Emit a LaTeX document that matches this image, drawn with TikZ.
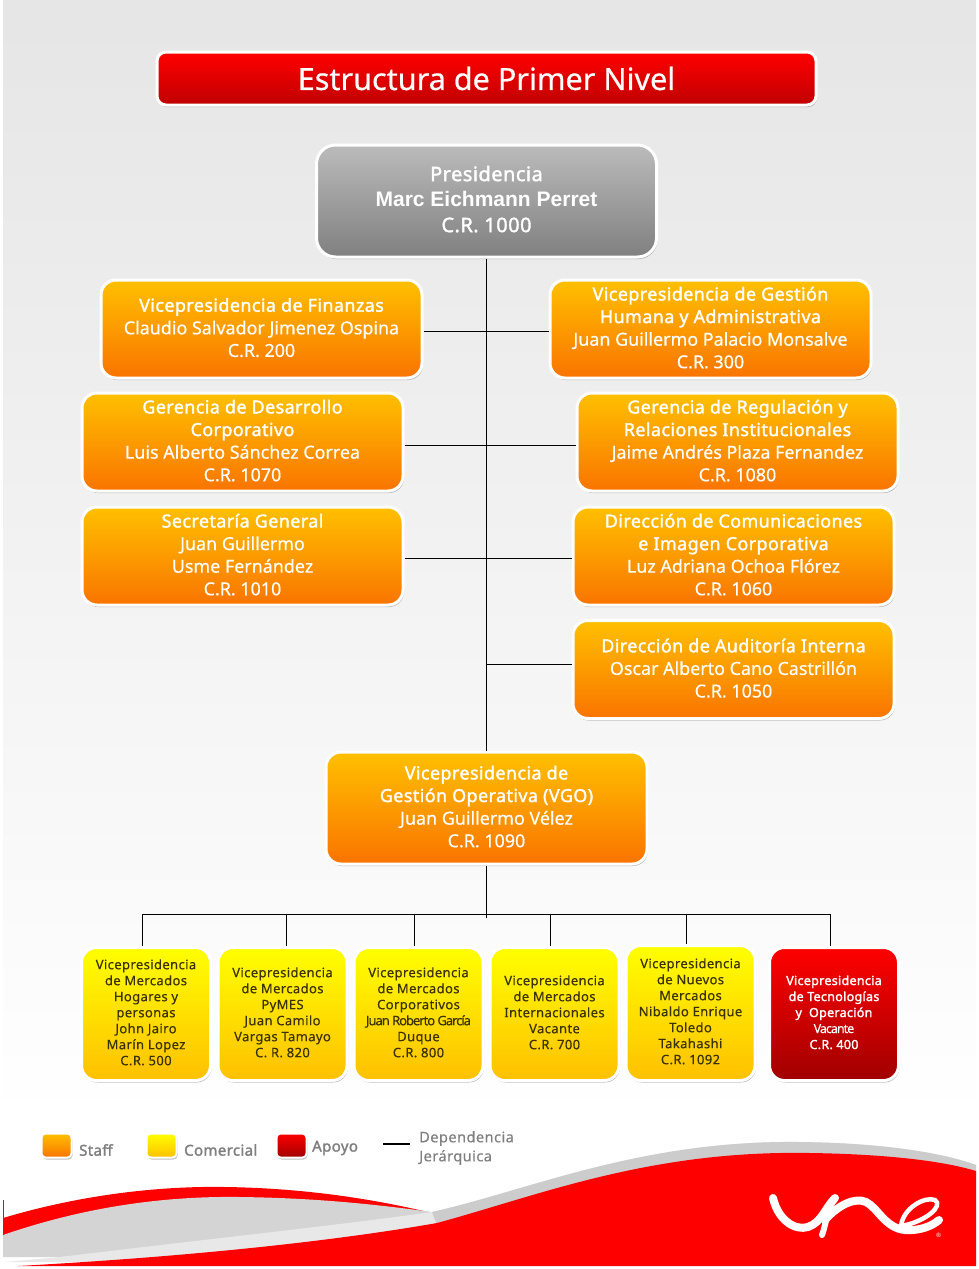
\documentclass[tikz,border=0pt]{standalone}
\usepackage{fontspec}
\setmainfont{Noto Sans}
\newfontfamily\arialfont{Liberation Sans}
\newfontfamily\headfont[FakeBold=1.8,LetterSpace=2.4]{Noto Sans}
\newfontfamily\bodyfont[FakeBold=0.5]{Noto Sans}
\newfontfamily\smallfont[FakeBold=0.25,LetterSpace=3]{Noto Sans}
\newfontfamily\tightfont[FakeBold=0.25,LetterSpace=-8]{Noto Sans}
\usetikzlibrary{positioning}
\usetikzlibrary{shadows}
\definecolor{orangeTop}{HTML}{FFC000}
\definecolor{orangeBot}{HTML}{F97400}
\definecolor{redTop}{HTML}{FF0000}
\definecolor{redBot}{HTML}{A00000}
\definecolor{titleBot}{HTML}{C00000}
\definecolor{grayTop}{HTML}{BBBBBB}
\definecolor{grayBot}{HTML}{808080}
\definecolor{inkDark}{HTML}{3A3000}
\definecolor{legendInk}{HTML}{7F7F7F}
\tikzset{
  basebox/.style={draw=white, line width=3pt, rounded corners=15pt, align=center,
    drop shadow={shadow xshift=1pt, shadow yshift=-2pt, opacity=.25, fill=black}},
  staffbox/.style={basebox, top color=orangeTop, bottom color=orangeBot, text=white,
    minimum width=321pt, minimum height=98pt, font=\bodyfont\fontsize{17.9}{22.6}\selectfont,
    execute at end node={\rule[-3pt]{0pt}{0pt}}},
  comercialbox/.style={basebox, top color=yellow, bottom color=orangeTop, text=inkDark,
    minimum width=129pt, minimum height=133pt, font=\smallfont\fontsize{13}{16}\selectfont,
    execute at end node={\rule[-3.5pt]{0pt}{0pt}}},
  apoyobox/.style={comercialbox, top color=redTop, bottom color=redBot, text=white},
  keybox/.style={draw=white, line width=2pt, rounded corners=4pt, minimum width=30pt, minimum height=24pt,
    drop shadow={shadow xshift=1pt, shadow yshift=-2pt, opacity=.25, fill=black}},
  keytext/.style={text=legendInk, font=\headfont\fontsize{15}{18}\selectfont, inner sep=0pt},
  treeline/.style={draw=black, line width=1pt}
}
\begin{document}
\begin{tikzpicture}[x=1pt,y=-1pt]
\useasboundingbox (0,0) rectangle (978,1269);
% background
\fill[top color=black!10, bottom color=white, middle color=black!5] (3,0) rectangle (976,1120);
\fill[white] (3,1120) rectangle (976,1266);
% swoosh at the bottom
\fill[redTop] (3,1218) .. controls (90,1192) and (170,1186) .. (225,1187)
   .. controls (300,1188) and (370,1198) .. (432,1213) -- (3,1236) -- cycle;
\fill[black!17] (3,1235) .. controls (90,1205) and (170,1196) .. (240,1197)
   .. controls (320,1198) and (380,1205) .. (432,1212) -- (437,1225) -- (60,1257) -- (3,1257) -- cycle;
\fill[black!9] (5,1262) -- (60,1257) .. controls (200,1240) and (340,1225) .. (432,1212)
   .. controls (530,1190) and (640,1140) .. (800,1142) .. controls (880,1143) and (940,1152) .. (976,1165)
   -- (976,1175) -- (437,1240) -- (100,1262) -- cycle;
\fill[black!20] (432,1212) .. controls (530,1190) and (640,1140) .. (800,1142) .. controls (880,1143) and (940,1152) .. (976,1165)
   -- (976,1175) -- (800,1160) -- (437,1225) -- cycle;
\fill[redTop] (18,1266) .. controls (200,1256) and (340,1240) .. (437,1223)
   .. controls (540,1195) and (650,1150) .. (810,1153) .. controls (880,1154) and (940,1160) .. (976,1171)
   -- (976,1266) -- cycle;
\fill[redTop] (2.5,1200) rectangle (3.5,1235);
% logo
\draw[white, line width=8pt, line cap=round] (773,1198) .. controls (778,1220) and (795,1231) .. (808,1227)
   .. controls (822,1222) and (825,1208) .. (835,1198);
\draw[white, line width=6pt, line cap=round] (835,1198) .. controls (826,1212) and (826,1225) .. (822,1235);
\draw[white, line width=8pt, line cap=round] (825,1220) .. controls (838,1205) and (855,1197) .. (866,1202)
   .. controls (878,1208) and (885,1228) .. (905,1230) .. controls (920,1231) and (932,1226) .. (939,1220);
\draw[white, line width=4.5pt, line cap=round] (901,1226) .. controls (903,1208) and (925,1196) .. (935,1200)
   .. controls (944,1206) and (925,1222) .. (901,1226);
\node[text=white, font=\fontsize{6}{6}\selectfont, inner sep=0pt] (marca) at (938.5,1235) {®};
% title
\node[basebox, top color=redTop, bottom color=titleBot, text=white, minimum width=659pt, minimum height=53pt,
      rounded corners=9pt, font=\bodyfont\fontsize{30.6}{36}\selectfont] (titulo) at (486.5,78.5) {Estructura de Primer Nivel};
% boxes
\node[basebox, top color=grayTop, bottom color=grayBot, text=white, minimum width=340pt, minimum height=112pt,
      rounded corners=19pt, font=\headfont\fontsize{20}{25.5}\selectfont, execute at end node={\rule[-4pt]{0pt}{0pt}}]
      (presidencia) at (486.5,201) {Presidencia\\{\arialfont\bfseries\fontsize{21}{25.5}\selectfont Marc Eichmann Perret}\\C.R. 1000};
\node[staffbox] (finanzas) at (261.5,329) {{\headfont Vicepresidencia de Finanzas}\\Claudio Salvador Jimenez Ospina\\C.R. 200};
\node[staffbox] (gestion) at (710.5,329) {{\headfont Vicepresidencia de Gestión}\\{\headfont Humana y Administrativa}\\Juan Guillermo Palacio Monsalve\\C.R. 300};
\node[staffbox] (desarrollo) at (242.5,442) {{\headfont Gerencia de Desarrollo}\\{\headfont Corporativo}\\Luis Alberto Sánchez Correa\\C.R. 1070};
\node[staffbox] (regulacion) at (737.5,442) {{\headfont Gerencia de Regulación y}\\{\headfont Relaciones Institucionales}\\Jaime Andrés Plaza Fernandez\\C.R. 1080};
\node[staffbox] (secretaria) at (242.5,556) {{\headfont Secretaría General}\\Juan Guillermo\\Usme Fernández\\C.R. 1010};
\node[staffbox] (comunica) at (733.5,556) {{\headfont Dirección de Comunicaciones}\\{\headfont e Imagen Corporativa}\\Luz Adriana Ochoa Flórez\\C.R. 1060};
\node[staffbox] (auditoria) at (733.5,669.5) {{\headfont Dirección de Auditoría Interna}\\Oscar Alberto Cano Castrillón\\C.R. 1050};
\node[staffbox, minimum height=112pt] (vgo) at (486.5,808) {{\headfont Vicepresidencia de}\\{\headfont Gestión Operativa (VGO)}\\Juan Guillermo Vélez\\C.R. 1090};
\node[comercialbox] (hogares) at (146,1014) {Vicepresidencia\\de Mercados\\Hogares y\\personas\\John Jairo\\Marín Lopez\\C.R. 500};
\node[comercialbox] (pymes) at (282.5,1014) {Vicepresidencia\\de Mercados\\PyMES\\Juan Camilo\\Vargas Tamayo\\C. R. 820};
\node[comercialbox] (corporativos) at (418.5,1014) {Vicepresidencia\\de Mercados\\Corporativos\\{\tightfont Juan Roberto García}\\Duque\\C.R. 800};
\node[comercialbox] (internacionales) at (554.5,1014) {Vicepresidencia\\de Mercados\\Internacionales\\Vacante\\C.R. 700};
\node[comercialbox, minimum height=135pt] (nuevos) at (690.5,1013) {Vicepresidencia\\de Nuevos\\Mercados\\Nibaldo Enrique\\Toledo\\Takahashi\\C.R. 1092};
\node[apoyobox, font=\headfont\fontsize{12.5}{16}\selectfont] (tecnologia) at (834,1014) {Vicepresidencia\\de Tecnologías\\y\ \ Operación\\{\tightfont Vacante}\\C.R. 400};
% connectors
\draw[treeline] (presidencia.south) -- (vgo.north);
\draw[treeline] ([yshift=-2.5pt]finanzas.east) -- ([yshift=-2.5pt]gestion.west);
\draw[treeline] ([yshift=-3.5pt]desarrollo.east) -- ([yshift=-3.5pt]regulacion.west);
\draw[treeline] ([yshift=-2.5pt]secretaria.east) -- ([yshift=-2.5pt]comunica.west);
\coordinate (trunkAud) at (presidencia.south |- auditoria.west);
\draw[treeline] ([yshift=5pt]trunkAud) -- ([yshift=5pt]auditoria.west);
\coordinate (busMid) at (486.5,914.5);
\draw[treeline] (vgo.south) -- ([yshift=-3pt]busMid);
\draw[treeline] ([xshift=-3.5pt]hogares.north) |- (busMid) -| ([xshift=-3.5pt]tecnologia.north);
\draw[treeline] ([xshift=4pt]pymes.north) -- ([xshift=4pt]pymes.north |- busMid);
\draw[treeline] ([xshift=-4pt]corporativos.north) -- ([xshift=-4pt]corporativos.north |- busMid);
\draw[treeline] ([xshift=-4pt]internacionales.north) -- ([xshift=-4pt]internacionales.north |- busMid);
\draw[treeline] ([xshift=-4pt]nuevos.north) -- ([xshift=-4pt]nuevos.north |- busMid);
% legend
\node[keybox, top color=orangeTop, bottom color=orangeBot] (keyStaff) at (56.5,1145.5) {};
\node[keybox, top color=yellow, bottom color=orangeTop] (keyComercial) at (161.5,1145.5) {};
\node[keybox, top color=redTop, bottom color=redBot] (keyApoyo) at (291.5,1145.5) {};
\node[keytext, anchor=west] (txtStaff) at (79,1150) {Staff};
\node[keytext, anchor=west] (txtComercial) at (184,1150) {Comercial};
\node[keytext, anchor=west] (txtApoyo) at (312,1148) {Apoyo};
\node[text=legendInk, align=left, anchor=west, inner sep=0pt, font=\smallfont\fontsize{14.6}{19}\selectfont] (txtDep) at (419,1148) {Dependencia\\Jerárquica};
\coordinate (depEnd) at (383,1144);
\draw[black, line width=2.5pt] (depEnd) -- (410,1144);
\end{tikzpicture}
\end{document}
